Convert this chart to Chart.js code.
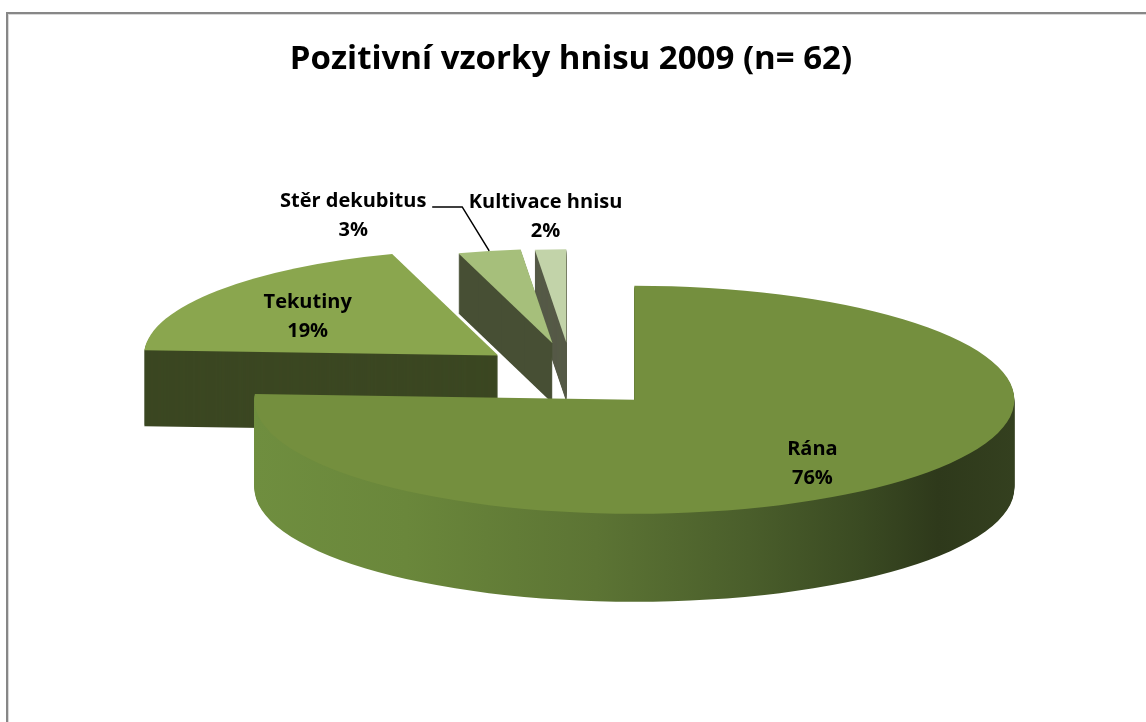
<!DOCTYPE html>
<html>
<head>
<meta charset="utf-8">
<title>Pozitivní vzorky hnisu 2009</title>
<script src="https://cdn.jsdelivr.net/npm/chart.js@4/dist/chart.umd.min.js"></script>
<style>
  html, body { margin: 0; padding: 0; background: #fff; }
  #chart { display: block; }
</style>
</head>
<body>
<canvas id="chart" width="1146" height="722"></canvas>
<script>
// samples by source, 2009
const categories = ['Rána', 'Tekutiny', 'Stěr dekubitus', 'Kultivace hnisu'];
const counts = [47, 12, 2, 1];
const topColors = ['#748f3e', '#8aa64e', '#a6bf7b', '#c2d3a9'];
const sideColors = [null, '#3b4722', '#474f34', '#565a47'];
// where each slice label goes: on the slice, outside with a leader, or just outside
const labelModes = ['inside', 'inside', 'leader', 'outside'];

const TILT = 0.3;        // vertical squash of the pie plane
const EXPLODE = 92;      // how far every slice is pulled out
const EXPLODE_TILT = 0.36;
const DEPTH = 88;        // thickness of the pie, front
const FONT = 'bold 20px "Open Sans", Lato, sans-serif';

const total = counts.reduce((a, b) => a + b, 0);

// slices towards the back come out a bit smaller (cheap perspective)
function persp(mid) {
  const back = Math.max(0, -Math.sin(mid));
  return 1 - 0.18 * back * back;
}

function apex(arc) {
  const mid = (arc.startAngle + arc.endAngle) / 2;
  return {
    x: arc.x + Math.cos(mid) * EXPLODE,
    y: arc.y + Math.sin(mid) * EXPLODE * EXPLODE_TILT,
    mid: mid,
    s: persp(mid)
  };
}

function slicePath(ctx, arc) {
  ctx.beginPath();
  ctx.moveTo(0, 0);
  ctx.arc(0, 0, arc.outerRadius, arc.startAngle, arc.endAngle);
  ctx.closePath();
}

function fillSlice(ctx, arc, drop, fill) {
  const a = apex(arc);
  ctx.save();
  ctx.translate(a.x, a.y + drop);
  ctx.scale(a.s, a.s * TILT);
  ctx.fillStyle = fill;
  slicePath(ctx, arc);
  ctx.fill();
  ctx.restore();
}

// point at a fraction of the radius along the middle of the slice
function rimPoint(arc, f, tilt) {
  const a = apex(arc);
  const r = arc.outerRadius * a.s * f;
  return { x: a.x + Math.cos(a.mid) * r, y: a.y + Math.sin(a.mid) * r * tilt };
}

const pie3d = {
  id: 'pie3d',
  beforeDraw(chart) {
    const ctx = chart.ctx;
    ctx.save();
    ctx.fillStyle = '#fff';
    ctx.fillRect(0, 0, chart.width, chart.height);
    ctx.strokeStyle = '#878787';
    ctx.lineWidth = 2;
    ctx.strokeRect(7, 13, chart.width + 40, chart.height + 40);
    ctx.strokeStyle = '#d9d9d9';
    ctx.lineWidth = 1;
    ctx.strokeRect(8.5, 14.5, chart.width + 40, chart.height + 40);
    ctx.restore();
  },
  beforeDatasetDraw() {
    return false;
  },
  afterDatasetsDraw(chart) {
    const ctx = chart.ctx;
    const arcs = chart.getDatasetMeta(0).data;

    // outer wall of the big slice is shaded left to right
    const walls = arcs.map((arc, i) => {
      if (sideColors[i]) return sideColors[i];
      const r = arc.outerRadius;
      const g = ctx.createLinearGradient(-r, 0, r, 0);
      g.addColorStop(0, '#6f8e3f');
      g.addColorStop(0.2, '#6a873b');
      g.addColorStop(0.45, '#5c7434');
      g.addColorStop(0.65, '#4a5e2b');
      g.addColorStop(0.8, '#3a4a22');
      g.addColorStop(0.9, '#2e391b');
      g.addColorStop(1, '#34401f');
      return g;
    });

    // side walls: stack the slice outline downwards, deepest first
    for (let d = DEPTH; d >= 1; d--) {
      arcs.forEach((arc, i) => {
        const s = apex(arc).s;
        if (d > DEPTH * s * s) return;
        fillSlice(ctx, arc, d, walls[i]);
      });
    }
    arcs.forEach((arc, i) => fillSlice(ctx, arc, 0, topColors[i]));

    // labels
    ctx.save();
    ctx.font = FONT;
    ctx.fillStyle = '#000';
    ctx.textAlign = 'center';
    ctx.textBaseline = 'middle';
    arcs.forEach((arc, i) => {
      const pct = Math.round(counts[i] / total * 100) + '%';
      let x, y;
      if (labelModes[i] === 'inside') {
        const mid = (arc.startAngle + arc.endAngle) / 2;
        const p = rimPoint(arc, 0.68, TILT * (1 + 0.2 * Math.sin(mid)));
        x = p.x; y = p.y - 14.5;
      } else if (labelModes[i] === 'leader') {
        const e = rimPoint(arc, 1, TILT);
        ctx.strokeStyle = '#000';
        ctx.lineWidth = 1.5;
        ctx.beginPath();
        ctx.moveTo(e.x, e.y);
        ctx.lineTo(e.x - 27, e.y - 44);
        ctx.lineTo(e.x - 57, e.y - 44);
        ctx.stroke();
        x = e.x - 136; y = e.y - 50;
      } else {
        const e = rimPoint(arc, 1, TILT);
        x = e.x - 5; y = e.y - 47;
      }
      ctx.fillText(categories[i], x, y);
      ctx.fillText(pct, x, y + 29);
    });
    ctx.restore();
  }
};

new Chart(document.getElementById('chart'), {
  type: 'pie',
  data: {
    labels: categories,
    datasets: [{
      data: counts,
      backgroundColor: topColors,
      borderWidth: 0
    }]
  },
  options: {
    responsive: false,
    animation: false,
    events: [],
    radius: 380,
    layout: { padding: { left: 0, right: 4, top: 0, bottom: 50 } },
    plugins: {
      legend: { display: false },
      tooltip: { enabled: false },
      title: {
        display: true,
        text: 'Pozitivní vzorky hnisu 2009 (n= 62)',
        color: '#000',
        font: { family: '"Open Sans", Lato, sans-serif', size: 33, weight: 'bold' },
        padding: { top: 40, bottom: 0 }
      }
    }
  },
  plugins: [pie3d]
});
</script>
</body>
</html>
